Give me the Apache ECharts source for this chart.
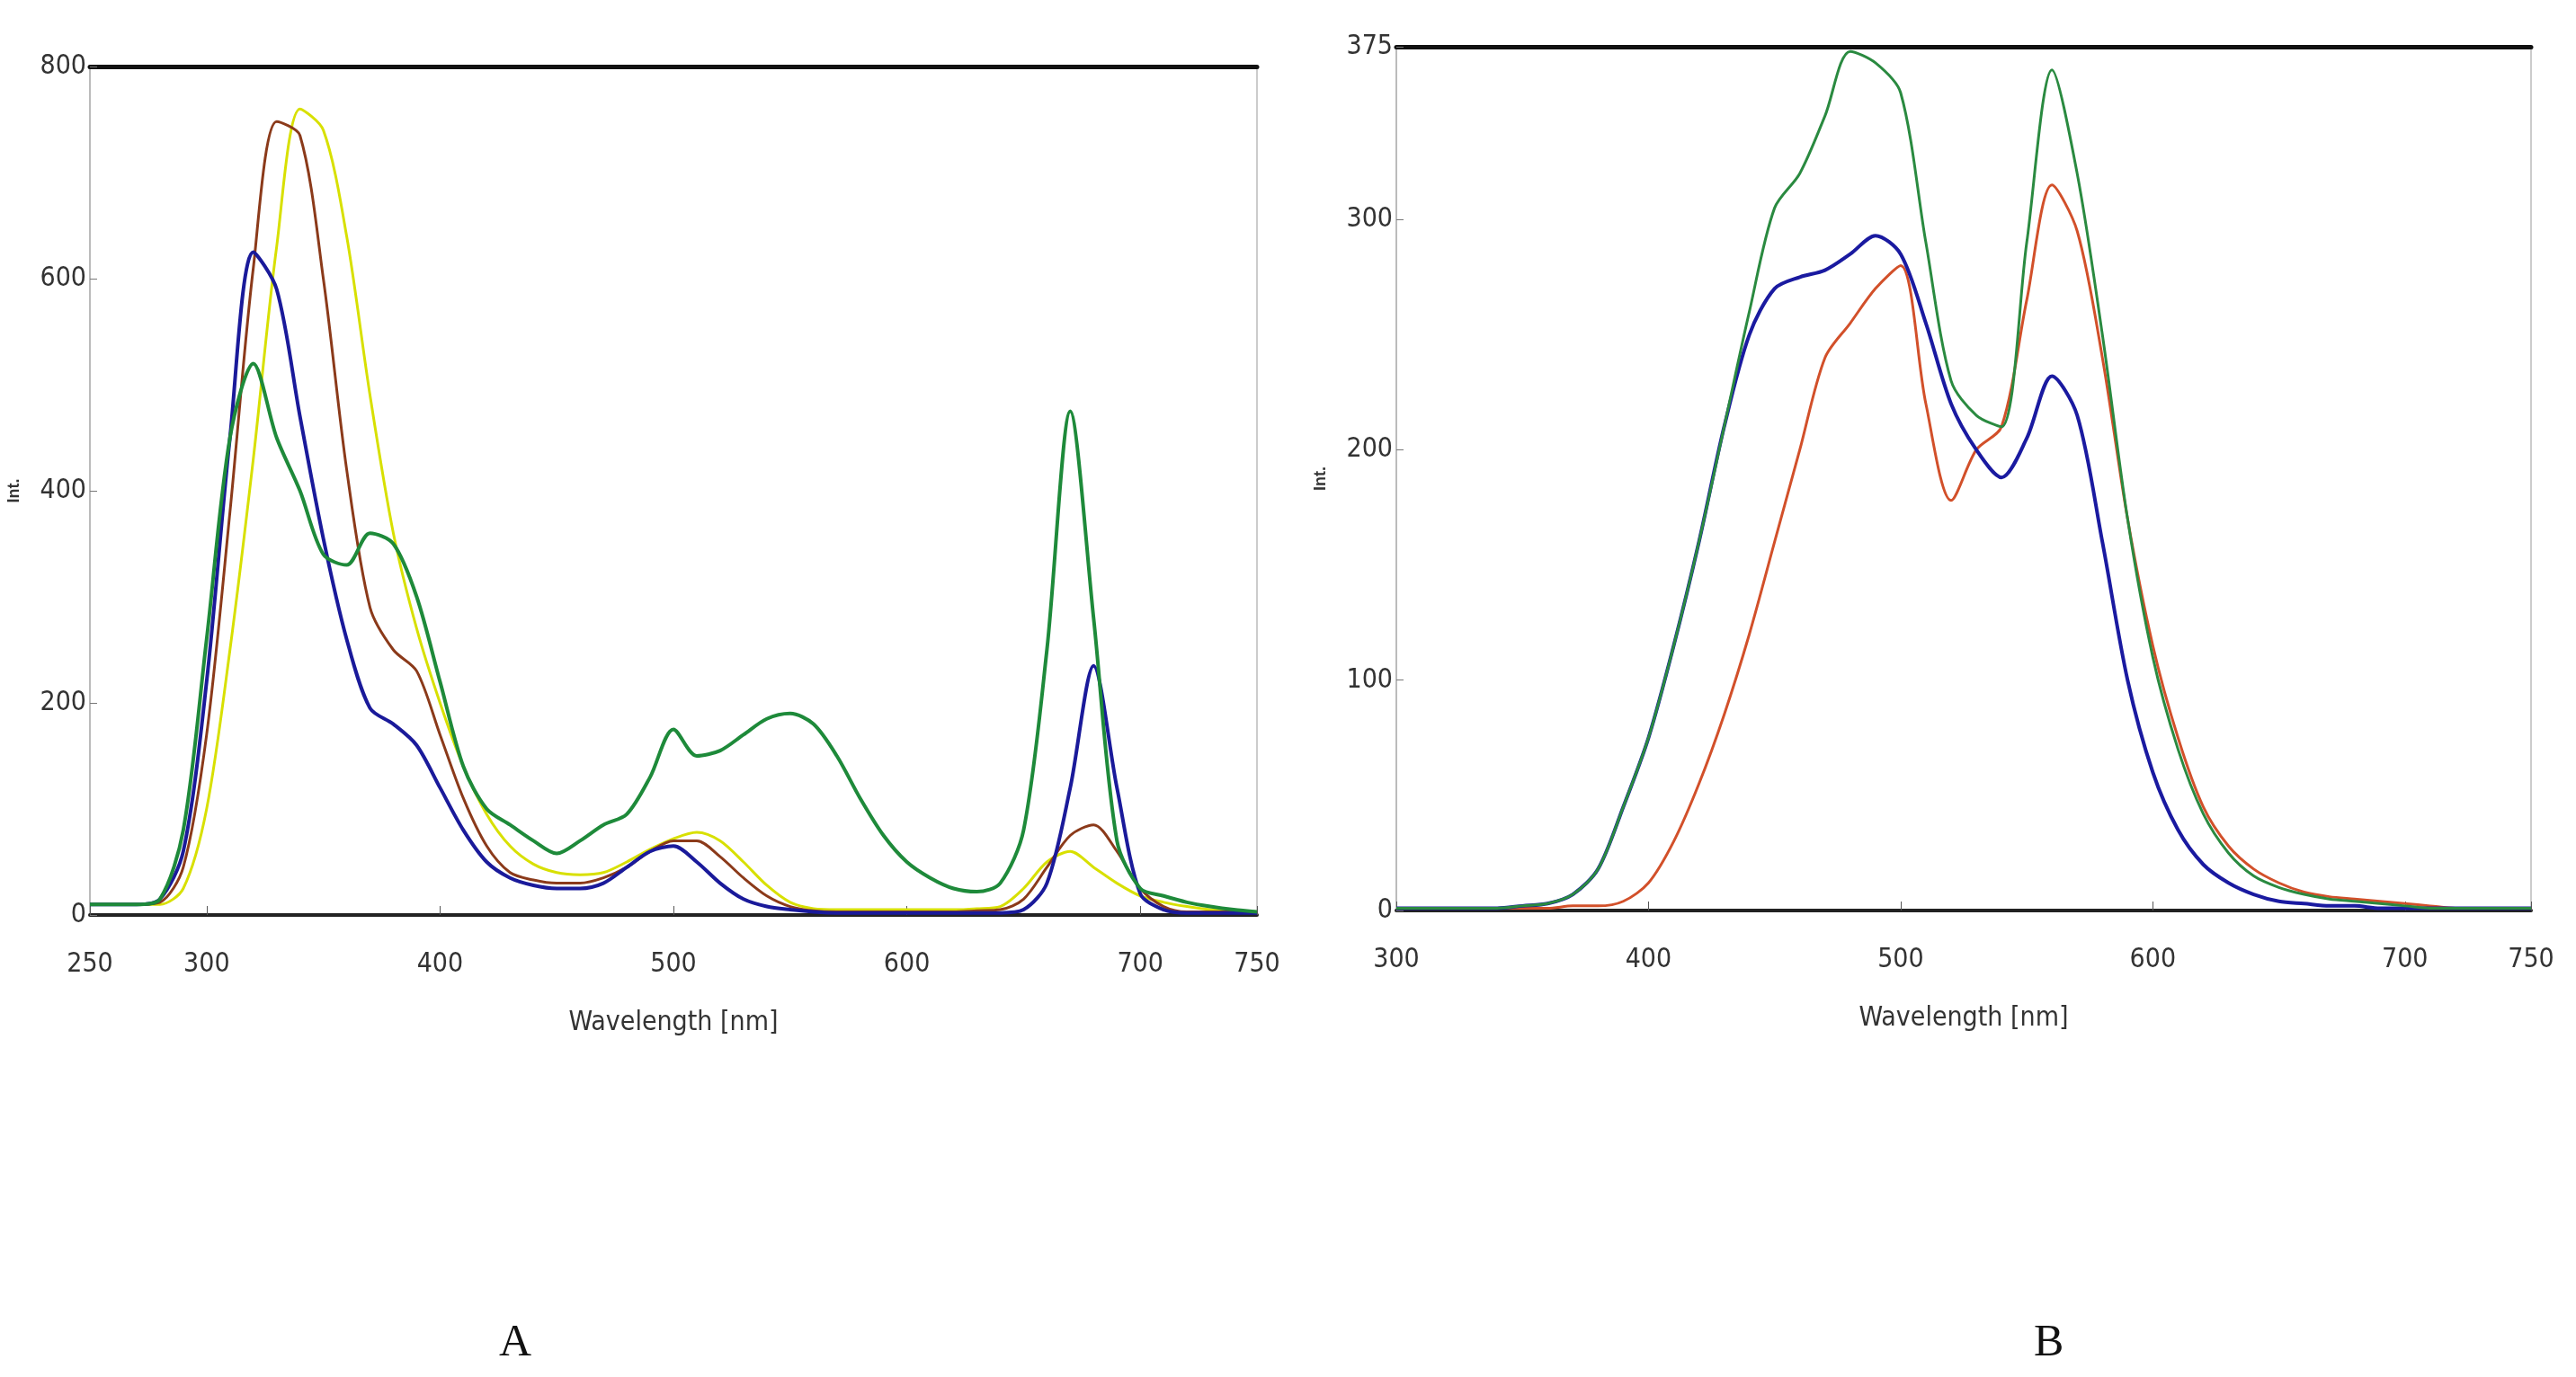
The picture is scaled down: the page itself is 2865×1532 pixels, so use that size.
<!DOCTYPE html>
<html>
<head>
<meta charset="utf-8">
<script src="https://cdn.jsdelivr.net/npm/echarts@6/dist/echarts.min.js"></script>
<style>
  html, body { margin: 0; padding: 0; background: #fff; }
  #main { width: 2865px; height: 1532px; }
</style>
</head>
<body>
<div id="main"></div>
<script>
// panel A, 250-750 nm every 10 nm
var wlA = [250,260,270,280,290,300,310,320,330,340,350,360,370,380,390,400,410,420,430,440,450,460,470,480,490,500,510,520,530,540,550,560,570,580,590,600,610,620,630,640,650,660,670,680,690,700,710,720,730,740,750];
var blueA = [10,10,10,15,60,220,450,625,590,470,355,260,195,180,160,120,80,50,35,28,25,25,30,45,60,65,50,30,15,8,5,3,2,2,2,2,2,2,2,2,5,30,120,235,120,20,5,2,2,2,2];
var redA = [10,10,10,12,45,170,380,610,748,735,600,420,290,250,230,170,110,65,40,33,30,30,35,45,60,70,70,55,35,18,8,4,3,3,3,3,3,3,4,5,15,45,75,85,60,25,8,3,3,3,3];
var yellowA = [10,10,10,10,25,100,250,430,630,760,740,640,490,360,270,200,140,95,65,48,40,38,40,50,62,72,78,70,50,28,12,6,5,5,5,5,5,5,6,8,25,50,60,45,30,18,12,8,5,4,3];
var greenA = [10,10,10,15,80,260,450,520,450,400,340,330,360,350,300,220,140,100,85,70,58,70,85,95,130,175,150,155,170,185,190,180,150,110,75,50,35,25,22,30,80,250,475,280,70,25,18,12,8,5,3];

// panel B, 300-750 nm every 10 nm
var wlB = [300,310,320,330,340,350,360,370,380,390,400,410,420,430,440,450,460,470,480,490,500,510,520,530,540,550,560,570,580,590,600,610,620,630,640,650,660,670,680,690,700,710,720,730,740,750];
var greenB = [1,1,1,1,1,2,3,7,18,45,75,115,160,210,260,305,320,345,373,368,355,290,230,215,210,290,365,320,250,170,110,70,42,25,15,10,7,5,4,3,2,1,1,1,1,1];
var blueB = [1,1,1,1,1,2,3,7,18,45,75,115,160,210,250,270,275,278,285,293,285,255,220,200,188,205,232,215,160,100,60,35,20,12,7,4,3,2,2,1,1,1,1,1,1,1];
var redB = [1,1,1,1,1,1,1,2,2,4,12,30,55,85,120,160,200,240,255,270,280,220,178,200,210,265,315,295,240,170,115,75,45,28,18,12,8,6,5,4,3,2,1,1,1,1];

var ticksA = [250,300,400,500,600,700,750];
var ticksB = [300,400,500,600,700,750];
var yTicksA = [0,200,400,600,800];
var yTicksB = [0,100,200,300,375];

function pairs(xs, ys) { return xs.map(function (x, i) { return [x, ys[i]]; }); }

var labelFont = { fontFamily: 'Liberation Sans Narrow, DejaVu Sans Condensed, sans-serif', fontSize: 30, color: '#333' };

function xAxes(idx, min, max, ticks) {
  return [{
    type: 'value', gridIndex: idx, min: min, max: max,
    name: 'Wavelength [nm]', nameLocation: 'middle', nameGap: 105,
    nameTextStyle: labelFont,
    axisLine: { onZero: false, lineStyle: { color: '#222', width: 4 } },
    axisTick: { inside: true, length: 10, customValues: ticks, lineStyle: { color: '#555' } },
    axisLabel: Object.assign({ customValues: ticks, margin: 40 }, labelFont),
    splitLine: { show: false }
  }, {
    type: 'value', gridIndex: idx, min: min, max: max, position: 'top',
    axisLine: { show: true, onZero: false, lineStyle: { color: '#111', width: 5 } },
    axisTick: { show: false }, axisLabel: { show: false }, splitLine: { show: false }
  }];
}
function yAxes(idx, max, ticks) {
  return [{
    type: 'value', gridIndex: idx, min: 0, max: max,
    name: 'Int.', nameLocation: 'middle', nameGap: 75, nameRotate: 90,
    nameTextStyle: { fontFamily: 'Liberation Sans Narrow, sans-serif', fontSize: 18, color: '#333', fontWeight: 'bold' },
    axisLine: { show: true, onZero: false, lineStyle: { color: '#bbb', width: 2 } },
    axisTick: { inside: true, length: 8, customValues: ticks, lineStyle: { color: '#777' } },
    axisLabel: Object.assign({ customValues: ticks, margin: 4 }, labelFont),
    splitLine: { show: false }
  }, {
    type: 'value', gridIndex: idx, min: 0, max: max, position: 'right',
    axisLine: { show: true, onZero: false, lineStyle: { color: '#ccc', width: 2 } },
    axisTick: { show: false }, axisLabel: { show: false }, splitLine: { show: false }
  }];
}
function line(name, xi, yi, data, color, w) {
  return { name: name, type: 'line', xAxisIndex: xi, yAxisIndex: yi, data: data,
    smooth: 0.3, showSymbol: false, lineStyle: { color: color, width: w } };
}

var chart = echarts.init(document.getElementById('main'));
chart.setOption({
  backgroundColor: '#fff',
  animation: false,
  grid: [
    { left: 100, right: 1467, top: 74, bottom: 514 },
    { left: 1553, right: 50, top: 52, bottom: 519 }
  ],
  xAxis: xAxes(0, 250, 750, ticksA).concat(xAxes(1, 300, 750, ticksB)),
  yAxis: yAxes(0, 800, yTicksA).concat(yAxes(1, 375, yTicksB)),
  series: [
    line('A yellow', 0, 0, pairs(wlA, yellowA), '#d8e000', 3),
    line('A red', 0, 0, pairs(wlA, redA), '#8b3a1a', 3),
    line('A blue', 0, 0, pairs(wlA, blueA), '#1a1a9a', 4),
    line('A green', 0, 0, pairs(wlA, greenA), '#1e8a3a', 4),
    line('B red', 2, 2, pairs(wlB, redB), '#d2502a', 3),
    line('B blue', 2, 2, pairs(wlB, blueB), '#1a1aa0', 4),
    line('B green', 2, 2, pairs(wlB, greenB), '#2a8a40', 3)
  ],
  graphic: [
    { type: 'text', left: 555, top: 1470, style: { text: 'A', font: '50px "Liberation Serif", serif', fill: '#111' } },
    { type: 'text', left: 2262, top: 1470, style: { text: 'B', font: '50px "Liberation Serif", serif', fill: '#111' } }
  ]
});
</script>
</body>
</html>
